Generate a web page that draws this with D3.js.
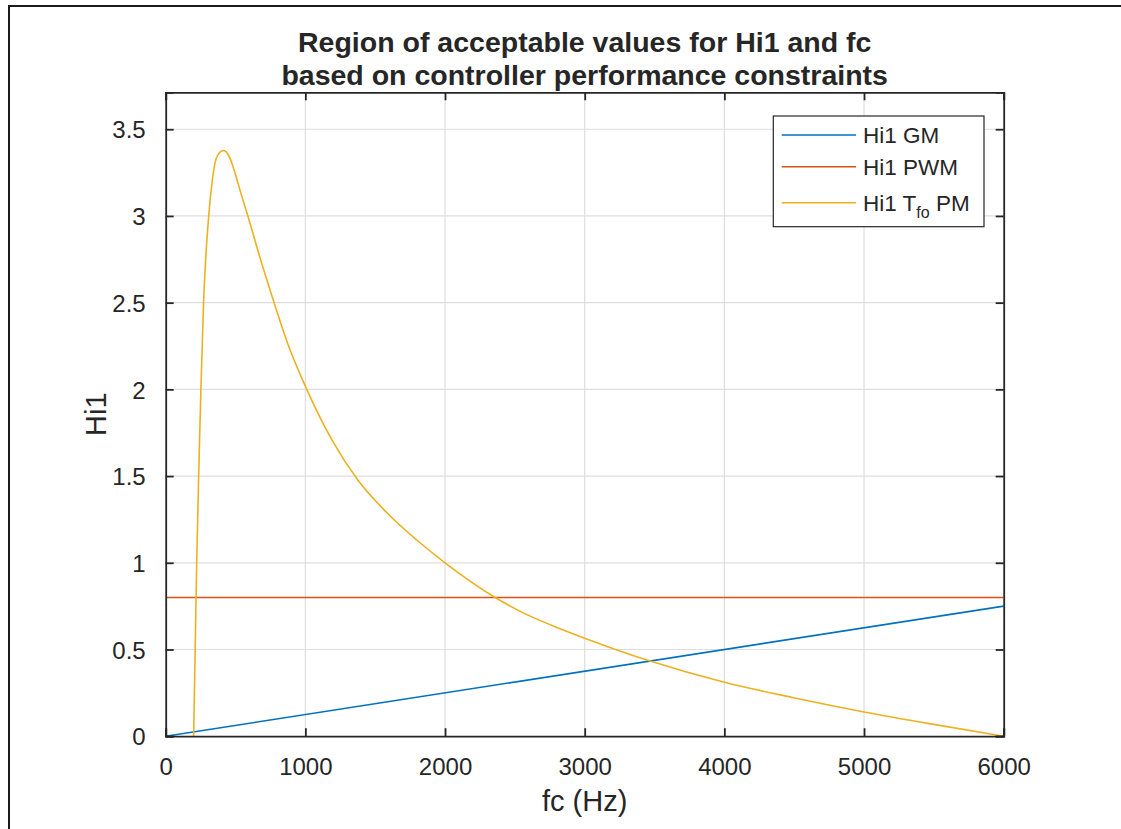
<!DOCTYPE html>
<html>
<head>
<meta charset="utf-8">
<script src="https://cdn.jsdelivr.net/npm/d3@7"></script>
<style>
  body { margin: 0; background: #fff; }
  text { font-family: "Liberation Sans", Arial, sans-serif; fill: #262626; }
</style>
</head>
<body>
<script>
// Data
const xTicks = [0, 1000, 2000, 3000, 4000, 5000, 6000];
const yTicks = [0, 0.5, 1, 1.5, 2, 2.5, 3, 3.5];

const gmFc = [0, 6000];
const gmHi1 = [0, 0.75];

const pwmFc = [0, 6000];
const pwmHi1 = [0.8, 0.8];

const tfoFc = [200, 211, 222, 236, 252, 271, 290, 308, 333, 352, 380, 413,
               450, 480, 510, 550, 592, 675, 776, 880, 1010, 1189, 1373, 1607, 1800, 2000,
               2359, 2538, 2824, 3000, 3457, 4000, 4496, 5000, 5499, 6000];
const tfoHi1 = [0, 0.5, 1.0, 1.5, 2.0, 2.5, 2.8, 3.0, 3.2, 3.3, 3.36, 3.377,
                3.35, 3.29, 3.21, 3.1, 2.99, 2.76, 2.5, 2.25, 2.0, 1.71, 1.48, 1.27, 1.13, 1.0,
                0.8, 0.72, 0.62, 0.565, 0.436, 0.311, 0.222, 0.14, 0.068, 0];

const seriesNames = ["Hi1 GM", "Hi1 PWM", "Hi1 T_fo PM"];
const colors = ["#0072BD", "#D95319", "#EDB120"];

let svg = null;
let x, y = null;
let plot = {left: 165.7, right: 1003.7, top: 92.3, bottom: 736.2};

// Main Process
appendSvg("body");
setupScales();
appendGrid();
appendLines();
appendAxes();
appendTexts();
appendLegend();

function appendSvg(domElement) {
    svg = d3.select(domElement).append("svg")
            .attr("width", 1121)
            .attr("height", 829);

    // figure frame (only top and left edges visible)
    svg.append("path")
        .attr("d", "M9,835 L9,6 L1130,6")
        .attr("fill", "none")
        .attr("stroke", "#1a1a1a")
        .attr("stroke-width", 2);
}

function setupScales() {
    x = d3.scaleLinear().domain([0, 6000]).range([plot.left, plot.right]);
    y = d3.scaleLinear().domain([0, 3.713]).range([plot.bottom, plot.top]);
}

function appendGrid() {
    let g = svg.append("g").attr("stroke", "#dedede").attr("stroke-width", 1.2);
    g.selectAll(".gx").data(xTicks.slice(1, -1)).enter().append("line")
        .attr("x1", d => x(d)).attr("x2", d => x(d))
        .attr("y1", plot.top).attr("y2", plot.bottom);
    g.selectAll(".gy").data(yTicks.slice(1)).enter().append("line")
        .attr("y1", d => y(d)).attr("y2", d => y(d))
        .attr("x1", plot.left).attr("x2", plot.right);
}

function appendLines() {
    svg.append("clipPath").attr("id", "clip")
        .append("rect")
        .attr("x", plot.left).attr("y", plot.top)
        .attr("width", plot.right - plot.left).attr("height", plot.bottom - plot.top);

    let line = d3.line()
        .x(d => x(d[0]))
        .y(d => y(d[1]))
        .curve(d3.curveMonotoneX);

    let series = [
        d3.zip(gmFc, gmHi1),
        d3.zip(pwmFc, pwmHi1),
        d3.zip(tfoFc, tfoHi1)
    ];

    svg.append("g").attr("clip-path", "url(#clip)")
        .selectAll("path").data(series).enter().append("path")
        .attr("d", line)
        .attr("fill", "none")
        .attr("stroke", (d, i) => colors[i])
        .attr("stroke-width", 1.6);
}

function appendAxes() {
    let tick = 8;

    // bottom / left with labels, ticks pointing inward
    let bottom = svg.append("g")
        .attr("transform", `translate(0, ${plot.bottom})`)
        .call(d3.axisBottom(x).tickValues(xTicks).tickSize(-tick).tickPadding(22).tickFormat(d3.format("d")));
    let left = svg.append("g")
        .attr("transform", `translate(${plot.left}, 0)`)
        .call(d3.axisLeft(y).tickValues(yTicks).tickSize(-tick).tickPadding(20).tickFormat(d => d3.format("")(d)));
    let top = svg.append("g")
        .attr("transform", `translate(0, ${plot.top})`)
        .call(d3.axisTop(x).tickValues(xTicks).tickSize(-tick).tickFormat(""));
    let right = svg.append("g")
        .attr("transform", `translate(${plot.right}, 0)`)
        .call(d3.axisRight(y).tickValues(yTicks).tickSize(-tick).tickFormat(""));

    [bottom, left, top, right].forEach(a => {
        a.selectAll("path").attr("stroke", "#262626").attr("stroke-width", 1.8);
        a.selectAll("line").attr("stroke", "#262626").attr("stroke-width", 1.8);
        a.selectAll("text").attr("font-size", 24).attr("font-family", "Liberation Sans, Arial, sans-serif").attr("fill", "#262626");
    });
    bottom.selectAll("text").attr("dy", "0.71em");
    left.selectAll("text").attr("dy", "0.36em");
}

function appendTexts() {
    let cx = (plot.left + plot.right) / 2;
    svg.append("text")
        .attr("x", cx).attr("y", 52)
        .attr("text-anchor", "middle")
        .attr("font-size", 28.5).attr("font-weight", "bold")
        .attr("fill", "#000")
        .text("Region of acceptable values for Hi1 and fc");
    svg.append("text")
        .attr("x", cx).attr("y", 85)
        .attr("text-anchor", "middle")
        .attr("font-size", 28.5).attr("font-weight", "bold")
        .attr("fill", "#000")
        .text("based on controller performance constraints");

    svg.append("text")
        .attr("x", cx).attr("y", 811)
        .attr("text-anchor", "middle")
        .attr("font-size", 29)
        .text("fc (Hz)");

    svg.append("text")
        .attr("transform", `translate(106, ${(plot.top + plot.bottom) / 2}) rotate(-90)`)
        .attr("text-anchor", "middle")
        .attr("font-size", 29)
        .text("Hi1");
}

function appendLegend() {
    let g = svg.append("g");
    g.append("rect")
        .attr("x", 773.3).attr("y", 116)
        .attr("width", 210.7).attr("height", 110.7)
        .attr("fill", "#fff")
        .attr("stroke", "#262626")
        .attr("stroke-width", 1.2);

    let rowY = [135, 166.7, 202.7];
    let rows = g.selectAll(".row").data(seriesNames).enter().append("g")
        .attr("transform", (d, i) => `translate(0, ${rowY[i]})`);
    rows.append("line")
        .attr("x1", 781.7).attr("x2", 856)
        .attr("stroke", (d, i) => colors[i])
        .attr("stroke-width", 1.6);

    rows.append("text")
        .attr("x", 863)
        .attr("dy", "0.36em")
        .attr("font-size", 22.5)
        .each(function(d) {
            let t = d3.select(this);
            let parts = d.split("_");
            if (parts.length === 1) { t.text(d); return; }
            // subscript for T_fo
            let sub = parts[1].split(" ");
            t.append("tspan").text(parts[0]);
            t.append("tspan").attr("font-size", 16).attr("dy", 7).text(sub[0]);
            t.append("tspan").attr("dy", -7).text(" " + sub.slice(1).join(" "));
        });
}
</script>
</body>
</html>
